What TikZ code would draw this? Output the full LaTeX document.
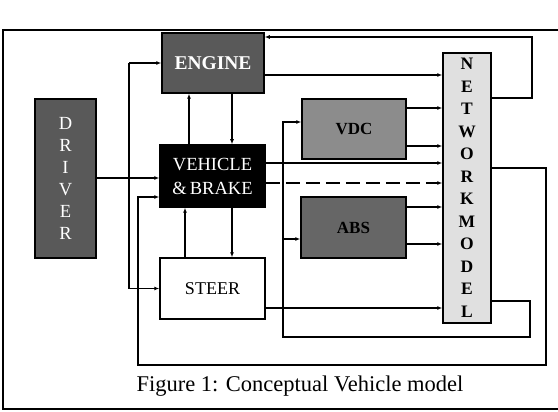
\documentclass[tikz,border=0pt]{standalone}
\usepackage{fontspec}
\setmainfont{Liberation Serif}
\usetikzlibrary{arrows.meta}
\tikzset{
  blk/.style={draw=black, line width=1.5pt, inner sep=0pt, align=center},
  arr/.style={line width=1.1pt, -{Latex[length=5pt,width=4pt]}},
  ln/.style={line width=1.1pt},
}
\begin{document}
\begin{tikzpicture}[x=1pt,y=-1pt]
\useasboundingbox (0,0) rectangle (558,412);
% frame
\draw[line width=1.3pt] (558,30) -- (3,30) -- (3,409) -- (558,409);
% blocks
\node[blk, fill=black!65, text=white, minimum width=102pt, minimum height=60pt, font=\fontsize{19.5}{22}\selectfont\bfseries] (engine) at (213,63) {ENGINE};
\node[blk, fill=black!65, text=white, minimum width=61pt, minimum height=159pt, font=\fontsize{18.5}{22}\selectfont] (driver) at (65.5,178.5) {D\\R\\I\\V\\E\\R};
\node[blk, fill=black, text=white, minimum width=105pt, minimum height=62pt, font=\fontsize{18.5}{24}\selectfont] (vehicle) at (212.5,176) {VEHICLE\\\&\,BRAKE};
\node[blk, fill=white, minimum width=105pt, minimum height=61pt, font=\fontsize{18}{20}\selectfont] (steer) at (212.5,288.5) {STEER};
\node[blk, fill=black!45, minimum width=104pt, minimum height=60pt, font=\fontsize{17}{20}\selectfont\bfseries] (vdc) at (354,129) {VDC};
\node[blk, fill=black!60, minimum width=105pt, minimum height=61pt, font=\fontsize{17}{20}\selectfont\bfseries] (abs) at (353.5,227.5) {ABS};
\node[blk, fill=black!12, minimum width=48pt, minimum height=270pt, font=\fontsize{17.5}{22.5}\selectfont\bfseries] (net) at (467,188) {N\\E\\T\\W\\O\\R\\K\\M\\O\\D\\E\\L};
% caption
\node[font=\fontsize{22.5}{26}\selectfont] (cap) at (300,386) {Figure 1: Conceptual Vehicle model};

% helper coordinates
\coordinate (c1) at (532,37);
\coordinate (b1) at (129,178);
\coordinate (f1) at (546,365);
\coordinate (f2) at (138,365);
\coordinate (g1) at (530,337);
\coordinate (g2) at (283,337);
\path ([yshift=-12pt]engine.east) coordinate (e2);
\path ([xshift=-23.5pt]vehicle.north) coordinate (v1);
\path ([xshift=19pt]engine.south) coordinate (e3);
\path ([yshift=-2pt]vehicle.west) coordinate (vw1);
\path ([yshift=13pt]vehicle.east) coordinate (ve1);
\path ([yshift=-7pt]vehicle.east) coordinate (ve2);
\path ([yshift=21pt]vdc.east) coordinate (de1);
\path ([yshift=-17pt]vdc.east) coordinate (de2);
\path ([yshift=20.5pt]abs.east) coordinate (ae1);
\path ([yshift=-16.5pt]abs.east) coordinate (ae2);
\path ([yshift=-19.5pt]steer.east) coordinate (se1);
\path ([xshift=-27.5pt]steer.north) coordinate (s1);
\path ([xshift=19.5pt]vehicle.south) coordinate (v2);
\path ([yshift=-11.5pt]abs.west) coordinate (aw);

% connectors
\draw[arr] ([yshift=90pt]net.east) -| (c1) -- ([yshift=26pt]engine.east);
\draw[arr] (e2) -- (e2 -| net.west);
\draw[arr] (v1) -- (v1 |- engine.south);
\draw[arr] (e3) -- (e3 |- vehicle.north);
\draw[arr] (vw1 -| driver.east) -- (vw1);
\draw[ln] (b1) -- (b1 |- engine.west);
\draw[arr] (b1 |- engine.west) -- (engine.west);
\draw[arr] (b1) |- (steer.west);
\draw[arr] ([yshift=20pt]net.east) -| (f1) -- (f2) |- ([yshift=-21pt]vehicle.west);
\draw[arr] ([yshift=-113pt]net.east) -| (g1) -- (g2) |- ([yshift=7pt]vdc.west);
\draw[arr] (aw -| g2) -- (aw);
\draw[arr] (ve1) -- (ve1 -| net.west);
\draw[arr, dash pattern=on 14pt off 6pt] (ve2) -- (ve2 -| net.west);
\draw[arr] (de1) -- (de1 -| net.west);
\draw[arr] (de2) -- (de2 -| net.west);
\draw[arr] (ae1) -- (ae1 -| net.west);
\draw[arr] (ae2) -- (ae2 -| net.west);
\draw[arr] (se1) -- (se1 -| net.west);
\draw[arr] (s1) -- (s1 |- vehicle.south);
\draw[arr] (v2) -- (v2 |- steer.north);
\end{tikzpicture}
\end{document}
